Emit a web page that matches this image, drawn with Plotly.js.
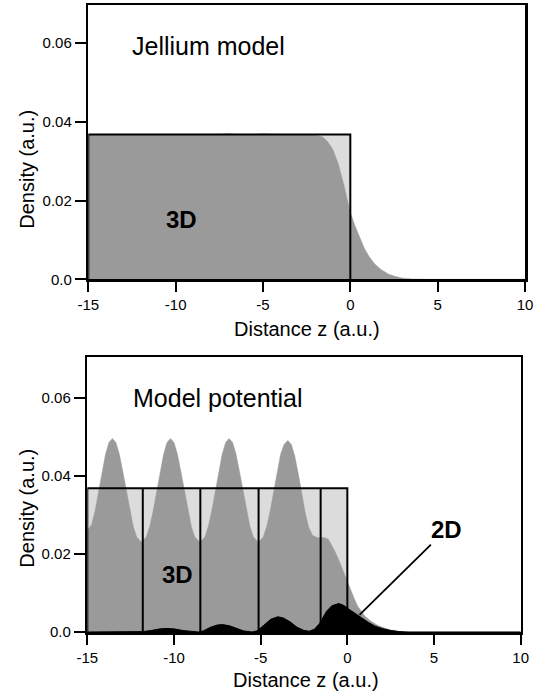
<!DOCTYPE html>
<html><head><meta charset="utf-8">
<script src="https://cdn.plot.ly/plotly-3.0.1.min.js"></script>
<style>html,body{margin:0;padding:0;background:#fff}#chart{width:539px;height:697px}</style>
</head><body><div id="chart"></div>
<script>
// ---- data ----
const jelliumZ = [-15, -13, -11, -9, -8, -7, -6, -5, -4, -3, -2.5, -2, -1.6, -1.3, -1.0, -0.7, -0.4, -0.2, 0, 0.25, 0.5, 0.8, 1.1, 1.4, 1.75, 2.2, 2.6, 3.0, 3.5, 4.5, 10];
const jelliumDensity = [0.0367, 0.0367, 0.0367, 0.0367, 0.0368, 0.0370, 0.0367, 0.0370, 0.0368, 0.0367, 0.0367, 0.0366, 0.0362, 0.0350, 0.0330, 0.0295, 0.0245, 0.0207, 0.0170, 0.0138, 0.0110, 0.0079, 0.0056, 0.0039, 0.0025, 0.0013, 0.0007, 0.0003, 0.0001, 0, 0];

const modelZ = [-15, -14.75, -14.55, -14.35, -14.15, -13.95, -13.75, -13.55, -13.35, -13.15, -12.95, -12.75, -12.55, -12.35, -12.15, -11.87,
  -11.6, -11.4, -11.2, -11.0, -10.8, -10.6, -10.4, -10.2, -10.0, -9.8, -9.6, -9.4, -9.2, -9.0, -8.8, -8.5,
  -8.22, -8.02, -7.82, -7.62, -7.42, -7.22, -7.02, -6.82, -6.62, -6.42, -6.22, -6.02, -5.82, -5.62, -5.42, -5.14,
  -4.85, -4.65, -4.45, -4.25, -4.05, -3.85, -3.65, -3.43, -3.23, -3.03, -2.83, -2.63, -2.43, -2.23, -2.0, -1.7, -1.4, -1.1, -0.9, -0.7,
  -0.5, -0.3, -0.1, 0, 0.2, 0.42, 0.6, 0.8, 1.0, 1.38, 1.75, 2.15, 2.5, 2.92, 3.3, 4.5, 10];
const modelDensity = [0.026, 0.0275, 0.031, 0.036, 0.041, 0.0455, 0.0485, 0.0495, 0.0485, 0.0455, 0.041, 0.036, 0.031, 0.027, 0.0243, 0.023,
  0.0243, 0.027, 0.031, 0.036, 0.041, 0.0455, 0.0485, 0.0495, 0.0485, 0.0455, 0.041, 0.036, 0.031, 0.027, 0.0243, 0.023,
  0.0243, 0.027, 0.031, 0.036, 0.041, 0.0455, 0.0485, 0.0495, 0.0485, 0.0455, 0.041, 0.036, 0.031, 0.027, 0.0243, 0.023,
  0.0243, 0.027, 0.031, 0.036, 0.041, 0.0455, 0.048, 0.049, 0.048, 0.045, 0.0405, 0.0355, 0.0305, 0.0268, 0.0247, 0.0241, 0.0242, 0.0238, 0.0222, 0.0205,
  0.0185, 0.0162, 0.0138, 0.0126, 0.0104, 0.0083, 0.0066, 0.0052, 0.0041, 0.0027, 0.0017, 0.001, 0.0005, 0.0002, 0, 0, 0];

const twoDZ = [-15, -12.2, -11.8, -11.3, -10.8, -10.4, -10.0, -9.5, -9.0, -8.6, -8.3, -7.9, -7.5, -7.2, -6.8, -6.4, -6.0, -5.5, -5.2, -4.8,
  -4.4, -4.0, -3.7, -3.3, -2.9, -2.5, -2.2, -1.9, -1.6, -1.2, -0.9, -0.5, -0.2, 0, 0.4, 0.8, 1.2, 1.6, 2.0, 2.5, 3.0, 3.5, 10];
const twoDDensity = [0, 0, 0.0001, 0.0004, 0.0008, 0.0009, 0.0008, 0.0004, 0.0001, 0.0, 0.0003, 0.0012, 0.0018, 0.0019, 0.0016, 0.0009, 0.0003, 0.0, 0.0003, 0.0018,
  0.0033, 0.0039, 0.0036, 0.0026, 0.0012, 0.0004, 0.0002, 0.0007, 0.0022, 0.0053, 0.0067, 0.0073, 0.0068, 0.0061, 0.0048, 0.0037, 0.0025, 0.0015, 0.0009, 0.0004, 0.0001, 0, 0];

const slabEdges = [-15, 0];
const slabDensity = 0.0368;
const layerBounds = [-11.8, -8.48, -5.12, -1.54];

const xTickVals = [-15, -10, -5, 0, 5, 10];
const xTickText = ['-15', '-10', '-5', '0', '5', '10'];
const yTickVals = [0, 0.02, 0.04, 0.06];
const yTickText = ['0.0', '0.02', '0.04', '0.06'];
const xTitle = 'Distance z (a.u.)';
const yTitle = 'Density (a.u.)';

// ---- build ----
const FONT = 'Liberation Sans, Arial, Helvetica, sans-serif';
const DARK = '#9a9a9a', LIGHT = '#dcdcdc';

function slabOutline() {
  return {
    x: [slabEdges[0], slabEdges[0], slabEdges[1], slabEdges[1]],
    y: [0, slabDensity, slabDensity, 0]
  };
}

function panelTraces(xa, ya, z, dens, withLayers) {
  const s = slabOutline();
  const t = [];
  t.push({x: s.x, y: s.y, xaxis: xa, yaxis: ya, type: 'scatter', mode: 'lines', fill: 'toself',
          fillcolor: LIGHT, line: {width: 0}, hoverinfo: 'skip'});
  t.push({x: z, y: dens, xaxis: xa, yaxis: ya, type: 'scatter', mode: 'lines', fill: 'tozeroy',
          fillcolor: DARK, line: {color: DARK, width: 0.5}, hoverinfo: 'skip'});
  t.push({x: s.x, y: s.y, xaxis: xa, yaxis: ya, type: 'scatter', mode: 'lines',
          line: {color: '#000', width: 2}, hoverinfo: 'skip'});
  if (withLayers) {
    const lx = [], ly = [];
    layerBounds.forEach(b => { lx.push(b, b, null); ly.push(0, slabDensity, null); });
    t.push({x: lx, y: ly, xaxis: xa, yaxis: ya, type: 'scatter', mode: 'lines',
            line: {color: '#000', width: 2}, hoverinfo: 'skip'});
  }
  return t;
}

const traces = [
  ...panelTraces('x', 'y', jelliumZ, jelliumDensity, false),
  ...panelTraces('x2', 'y2', modelZ, modelDensity, true),
  {x: twoDZ, y: twoDDensity, xaxis: 'x2', yaxis: 'y2', type: 'scatter', mode: 'lines', fill: 'tozeroy',
   fillcolor: '#000', line: {color: '#000', width: 1}, hoverinfo: 'skip'}
];

function xAxis(domain, anchor) {
  return {
    domain: domain, anchor: anchor, range: [-15, 10], tickmode: 'array', tickvals: xTickVals, ticktext: xTickText,
    ticks: 'outside', ticklen: 10, tickwidth: 2, tickcolor: '#000', showline: true, linecolor: '#000', linewidth: 2.5,
    mirror: true, showgrid: false, zeroline: false, automargin: false,
    tickfont: {family: FONT, size: 15, color: '#000'}
  };
}
function yAxis(domain, anchor, top) {
  return {
    domain: domain, anchor: anchor, range: [0, top], tickmode: 'array', tickvals: yTickVals, ticktext: yTickText,
    ticks: 'outside', ticklen: 11, tickwidth: 2, tickcolor: '#000', showline: true, linecolor: '#000', linewidth: 2.5,
    mirror: true, showgrid: false, zeroline: false, automargin: false,
    tickfont: {family: FONT, size: 15, color: '#000'}
  };
}

const titleFont = {family: FONT, size: 20, color: '#000'};
const layout = {
  width: 539, height: 697, showlegend: false,
  paper_bgcolor: '#fff', plot_bgcolor: '#fff',
  margin: {l: 0, r: 0, t: 5, b: 65},
  xaxis: xAxis([88.3 / 539, 525 / 539], 'y'),
  yaxis: yAxis([0.5625, 1], 'x', 0.0697),
  xaxis2: xAxis([87.3 / 539, 520.7 / 539], 'y2'),
  yaxis2: yAxis([0, 0.4381], 'x2', 0.0703),
  annotations: [
    {text: 'Jellium model', xref: 'x', yref: 'y', x: -12.6, y: 0.0593, xanchor: 'left', yanchor: 'middle',
     showarrow: false, font: {family: FONT, size: 25, color: '#000'}},
    {text: '<b>3D</b>', xref: 'x', yref: 'y', x: -9.69, y: 0.0151, xanchor: 'center', yanchor: 'middle',
     showarrow: false, font: {family: FONT, size: 24, color: '#000'}},
    {text: 'Model potential', xref: 'x2', yref: 'y2', x: -12.5, y: 0.060, xanchor: 'left', yanchor: 'middle',
     showarrow: false, font: {family: FONT, size: 25, color: '#000'}},
    {text: '<b>3D</b>', xref: 'x2', yref: 'y2', x: -9.8, y: 0.0147, xanchor: 'center', yanchor: 'middle',
     showarrow: false, font: {family: FONT, size: 24, color: '#000'}},
    {text: '<b>2D</b>', xref: 'x2', yref: 'y2', x: 0.7, y: 0.0044, axref: 'x2', ayref: 'y2', ax: 5.7, ay: 0.0262,
     showarrow: true, arrowhead: 0, arrowwidth: 1.8, arrowcolor: '#000', standoff: 0,
     font: {family: FONT, size: 24, color: '#000'}},
    {text: xTitle, xref: 'paper', yref: 'paper', x: 306.7 / 539, y: 0.4828,
     xanchor: 'center', yanchor: 'middle', showarrow: false, font: titleFont},
    {text: xTitle, xref: 'paper', yref: 'paper', x: 305.7 / 539, y: -0.0766,
     xanchor: 'center', yanchor: 'middle', showarrow: false, font: titleFont},
    {text: yTitle, xref: 'paper', yref: 'paper', x: 26.7 / 539, y: 0.7384, textangle: -90,
     xanchor: 'center', yanchor: 'middle', showarrow: false, font: titleFont},
    {text: yTitle, xref: 'paper', yref: 'paper', x: 26.7 / 539, y: 0.1978, textangle: -90,
     xanchor: 'center', yanchor: 'middle', showarrow: false, font: titleFont}
  ]
};

Plotly.newPlot('chart', traces, layout, {staticPlot: true, displayModeBar: false});
</script>
</body></html>
